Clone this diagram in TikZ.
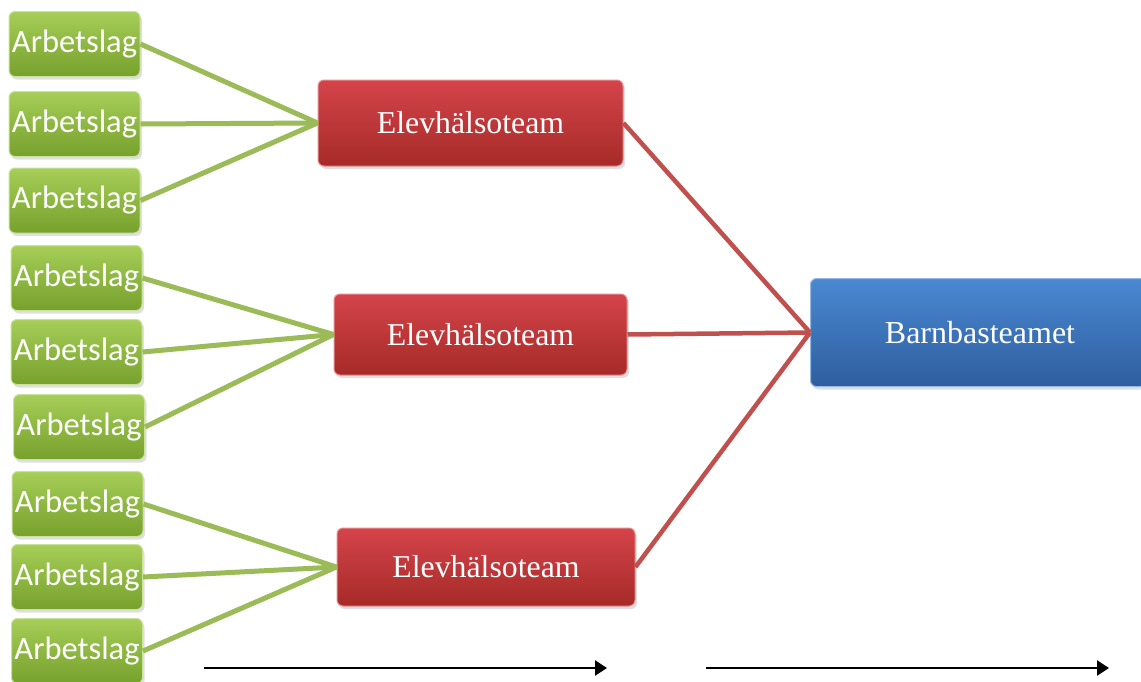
\documentclass[tikz,border=0pt]{standalone}
\usepackage{fontspec}
\setmainfont{Liberation Serif}
\newfontfamily\calib{Carlito}
\usetikzlibrary{shadows,arrows.meta}
\definecolor{gtop}{HTML}{A6CE58}
\definecolor{gbot}{HTML}{76A12C}
\definecolor{gline}{HTML}{9BBB59}
\definecolor{rtop}{HTML}{D4444A}
\definecolor{rbot}{HTML}{A62A28}
\definecolor{rline}{HTML}{C0504D}
\definecolor{btop}{HTML}{4A88D2}
\definecolor{bbot}{HTML}{2E5E9E}
\tikzset{
  boxbase/.style={rectangle, rounded corners=6pt, inner sep=0pt, text=white,
    drop shadow={opacity=0.25, shadow xshift=2pt, shadow yshift=-3pt}},
  greenbox/.style={boxbase, top color=gtop, bottom color=gbot, draw=gtop!60!white, line width=1pt,
    minimum width=131pt, minimum height=65pt, font=\calib\fontsize{32.5}{38}\selectfont},
  redbox/.style={boxbase, top color=rtop, bottom color=rbot, draw=rtop!60!white, line width=1pt,
    minimum height=86pt, font=\fontsize{31.8}{38}\selectfont},
  bluebox/.style={boxbase, top color=btop, bottom color=bbot, draw=btop!60!white, line width=1pt,
    minimum height=108pt, minimum width=335pt, font=\fontsize{32}{38}\selectfont},
  glink/.style={draw=gline, line width=5pt},
  rlink/.style={draw=rline, line width=4.5pt},
  timeline/.style={draw=black, line width=2.6pt, -{Triangle[length=12pt,width=15pt]}}
}
\begin{document}
\begin{tikzpicture}[x=1pt,y=-1pt]
\useasboundingbox[fill=white] (0,0) rectangle (1141,681);

% red and blue boxes
\node[redbox, minimum width=305pt] (r1) at (470.5,123) {Elevhälsoteam};
\node[redbox, minimum width=293pt, minimum height=81pt] (r2) at (480.5,334.5) {Elevhälsoteam};
\node[redbox, minimum width=298pt, minimum height=78pt] (r3) at (486,567) {Elevhälsoteam};
\node[bluebox] (b) at (978,332.5) {\hspace*{4pt}Barnbasteamet};

% green boxes
\node[greenbox] (g1) at (74.5,44) {Arbetslag};
\node[greenbox] (g2) at (74.5,124) {Arbetslag};
\node[greenbox] (g3) at (74.5,200.5) {Arbetslag};
\node[greenbox] (g4) at (76.5,278) {Arbetslag};
\node[greenbox] (g5) at (76.5,352) {Arbetslag};
\node[greenbox] (g6) at (79,427) {Arbetslag};
\node[greenbox] (g7) at (77.5,504) {Arbetslag};
\node[greenbox] (g8) at (77,577) {Arbetslag};
\node[greenbox] (g9) at (77,651) {Arbetslag};

% green links
\foreach \g in {g1,g2,g3} \draw[glink] (\g.east) -- (r1.west);
\foreach \g in {g4,g5,g6} \draw[glink] (\g.east) -- (r2.west);
\foreach \g in {g7,g8,g9} \draw[glink] (\g.east) -- (r3.west);

% red links
\foreach \r in {r1,r2,r3} \draw[rlink] (\r.east) -- (b.west);

% time arrows
\coordinate (a1s) at (204,668);
\coordinate (a1e) at (607,668);
\coordinate (a2s) at (706,668);
\coordinate (a2e) at (1109,668);
\draw[timeline] (a1s) -- (a1e);
\draw[timeline] (a2s) -- (a2e);
\end{tikzpicture}
\end{document}
